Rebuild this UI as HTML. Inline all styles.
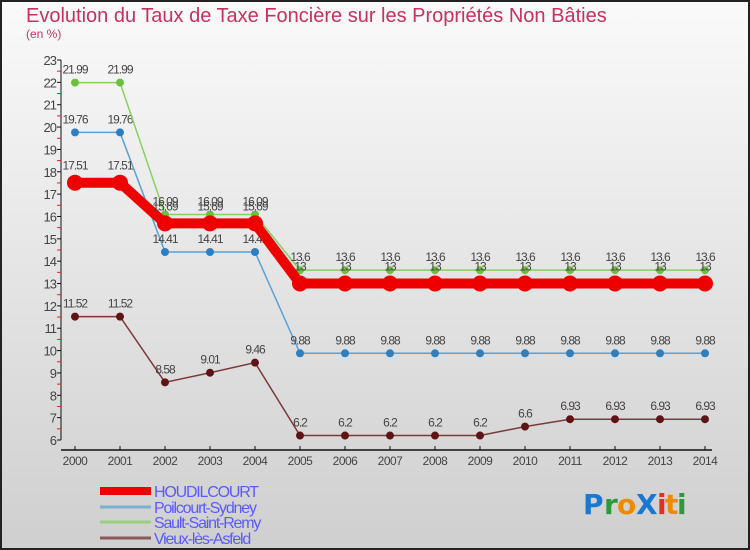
<!DOCTYPE html>
<html><head><meta charset="utf-8"><style>
body{margin:0;width:750px;height:550px;overflow:hidden;font-family:"Liberation Sans",sans-serif}
svg{display:block}
</style></head><body>
<svg id="chart" width="750" height="550" xmlns="http://www.w3.org/2000/svg">
<defs><linearGradient id="bg" x1="0" y1="0" x2="0" y2="1"><stop offset="0" stop-color="#fafafa"/><stop offset="1" stop-color="#cfcfcf"/></linearGradient></defs>
<rect x="1" y="1" width="748" height="548" fill="url(#bg)" stroke="#222" stroke-width="2"/>
<text x="26" y="22" font-size="20" fill="#c8305e">Evolution du Taux de Taxe Foncière sur les Propriétés Non Bâties</text>
<text x="26" y="38" font-size="12" fill="#c8305e">(en %)</text>
<g id="axes"></g><g id="series"></g><g id="legend"></g>
<g font-size="28" font-family="'DejaVu Sans',sans-serif" font-weight="bold">
<text x="583" y="514" fill="#1a78d0">P</text><text x="604" y="514" fill="#2a9a3a">r</text><text x="617" y="514" fill="#f08a00">o</text><text x="636" y="514" fill="#1a78d0">X</text><text x="657" y="514" fill="#e03020">i</text><text x="665" y="514" fill="#f08a00">t</text><text x="677" y="514" fill="#2a9a3a">i</text>
</g>
</svg>
<script>
const years=[2000,2001,2002,2003,2004,2005,2006,2007,2008,2009,2010,2011,2012,2013,2014];
const houdilcourt=[17.51,17.51,15.69,15.69,15.69,13,13,13,13,13,13,13,13,13,13];
const poilcourt=[19.76,19.76,14.41,14.41,14.41,9.88,9.88,9.88,9.88,9.88,9.88,9.88,9.88,9.88,9.88];
const sault=[21.99,21.99,16.09,16.09,16.09,13.6,13.6,13.6,13.6,13.6,13.6,13.6,13.6,13.6,13.6];
const vieux=[11.52,11.52,8.58,9.01,9.46,6.2,6.2,6.2,6.2,6.2,6.6,6.93,6.93,6.93,6.93];
const yTicks=[6,7,8,9,10,11,12,13,14,15,16,17,18,19,20,21,22,23];
const NS="http://www.w3.org/2000/svg";
const yMin=6,yMax=23,yTop=60,yBot=440;
function y(v){return yBot-(v-yMin)/(yMax-yMin)*(yBot-yTop);}
function x(i){return 75+i*45;}
function mk(t,a,p){const e=document.createElementNS(NS,t);for(const k in a)e.setAttribute(k,a[k]);p.appendChild(e);return e;}
const ax=document.getElementById('axes');
const ya=mk('line',{x1:61,y1:yTop,x2:61,y2:yBot,stroke:'#111'},ax);


yTicks.forEach(v=>{
 mk('line',{x1:57,y1:y(v),x2:61,y2:y(v),stroke:'#111'},ax);
 if(v<yMax)mk('line',{x1:57,y1:y(v+0.5),x2:61,y2:y(v+0.5),stroke:'#e02020'},ax);
 const t=mk('text',{x:56,y:y(v)+5,'text-anchor':'end','font-size':13,fill:'#444','letter-spacing':'-1'},ax);
 t.textContent=v;
 
 
});
const xa=mk('line',{x1:61,y1:450,x2:712,y2:450,stroke:'#111','stroke-width':1.5},ax);


years.forEach((yr,i)=>{
 mk('line',{x1:x(i),y1:446,x2:x(i),y2:450,stroke:'#111'},ax);
 const t=mk('text',{x:x(i),y:465,'text-anchor':'middle','font-size':12,fill:'#444','letter-spacing':'-0.5'},ax);
 t.textContent=yr;
 
 
});
const S=document.getElementById('series');
function series(vals,color,dot,w,r,name,lblOff){
 const g=mk('g',{},S);
 
 
 mk('polyline',{points:vals.map((v,i)=>x(i)+','+y(v)).join(' '),fill:'none',stroke:color,'stroke-width':w},g);
 vals.forEach((v,i)=>{
  const c=mk('circle',{cx:x(i),cy:y(v),r:r,fill:dot},g);
  
  
  const t=mk('text',{x:x(i),y:y(v)-lblOff,'text-anchor':'middle','font-size':12,fill:'#444','letter-spacing':'-1'},g);
  t.textContent=v;
  
  
 });
}
series(vieux,'#7a3a3a','#5e1414',1.5,4,'series-vieux-les-asfeld',9);
series(poilcourt,'#5aa0d8','#2e7fc0',1.5,4,'series-poilcourt-sydney',9);
series(sault,'#88d060','#6cc040',1.5,4,'series-sault-saint-remy',9);
series(houdilcourt,'#ee0000','#ee0000',10,8,'series-houdilcourt',13);
const L=document.getElementById('legend');
[['HOUDILCOURT','#ee0000',8,491],['Poilcourt-Sydney','#7ab0d0',3,507],['Sault-Saint-Remy','#98d080',3,522],['Vieux-lès-Asfeld','#8a5a5a',3,538]].forEach(d=>{
 const g=mk('g',{},L);
 
 
 mk('line',{x1:100,y1:d[3],x2:151,y2:d[3],stroke:d[1],'stroke-width':d[2]},g);
 const t=mk('text',{x:154,y:d[3]+6,'font-size':16,fill:'#5a5aff','letter-spacing':'-1.2'},g);
 t.textContent=d[0];
});
</script>
</body></html>
